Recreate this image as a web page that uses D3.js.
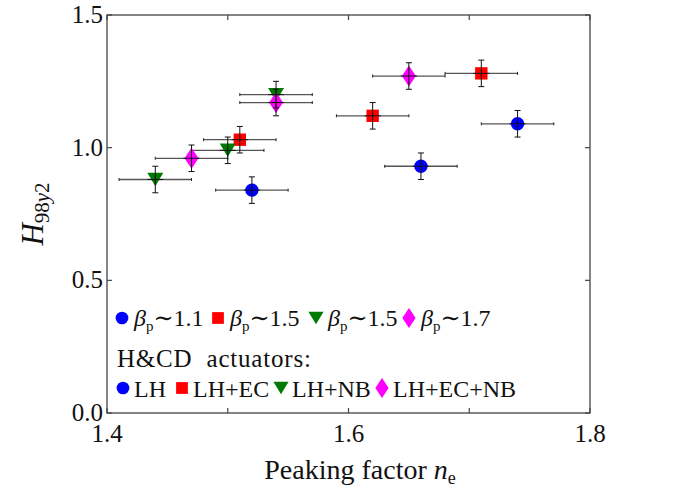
<!DOCTYPE html>
<html>
<head>
<meta charset="utf-8">
<script src="https://cdn.jsdelivr.net/npm/d3@7"></script>
<style>
  body { margin: 0; background: #fff; }
  text { font-family: "Liberation Serif", "DejaVu Serif", serif; fill: #111; }
</style>
</head>
<body>
<div id="chart"></div>
<script>
// data
const groups = ["LH", "LH+EC", "LH+NB", "LH+EC+NB"];
const betaLabels = ["1.1", "1.5", "1.5", "1.7"];
const groupColors = ["#0000ff", "#ff0000", "#007a00", "#ff00ff"];

const peaking = [
  [1.52, 1.66, 1.74],
  [1.51, 1.62, 1.71],
  [1.44, 1.50, 1.54],
  [1.47, 1.54, 1.65]
];
const h98 = [
  [0.84, 0.93, 1.09],
  [1.03, 1.12, 1.28],
  [0.88, 0.99, 1.20],
  [0.96, 1.17, 1.27]
];
const xErr = 0.03;
const yErr = 0.05;

const xTicks = [1.4, 1.5, 1.6, 1.7, 1.8];
const xTickLabels = ["1.4", "", "1.6", "", "1.8"];
const yTicks = [0, 0.5, 1.0, 1.5];

const width = 689, height = 487;
const margin = { top: 15, right: 99, bottom: 74, left: 107 };

const svg = d3.select("#chart").append("svg")
  .attr("width", width).attr("height", height);

const x = d3.scaleLinear().domain([1.4, 1.8]).range([margin.left, width - margin.right]);
const y = d3.scaleLinear().domain([0, 1.5]).range([height - margin.bottom, margin.top]);

// marker shapes
function markerPath(i, s) {
  const p = d3.path();
  if (i === 0) {
    p.arc(0, 0, 6.7 * s, 0, 2 * Math.PI);
  } else if (i === 1) {
    const h = 6.2 * s;
    p.rect(-h, -h, 2 * h, 2 * h);
  } else if (i === 2) {
    const w = 8 * s, hh = 6.7 * s;
    p.moveTo(-w, -hh); p.lineTo(w, -hh); p.lineTo(0, hh); p.closePath();
  } else {
    const w = 7 * s, hh = 10.5 * s;
    p.moveTo(0, -hh); p.lineTo(w, 0); p.lineTo(0, hh); p.lineTo(-w, 0); p.closePath();
  }
  return p.toString();
}

// axes box
const axisColor = "#444";
const plot = svg.append("g");
plot.append("rect")
  .attr("x", x(1.4)).attr("y", y(1.5))
  .attr("width", x(1.8) - x(1.4)).attr("height", y(0) - y(1.5))
  .attr("fill", "none").attr("stroke", axisColor).attr("stroke-width", 1.3);

const tickLen = 5;
xTicks.forEach((t, i) => {
  plot.append("line").attr("x1", x(t)).attr("x2", x(t))
    .attr("y1", y(0)).attr("y2", y(0) - tickLen)
    .attr("stroke", axisColor).attr("stroke-width", 1.2);
  plot.append("line").attr("x1", x(t)).attr("x2", x(t))
    .attr("y1", y(1.5)).attr("y2", y(1.5) + tickLen)
    .attr("stroke", axisColor).attr("stroke-width", 1.2);
  if (xTickLabels[i]) {
    plot.append("text").attr("x", x(t)).attr("y", y(0) + 29)
      .attr("text-anchor", "middle").attr("font-size", 25)
      .text(xTickLabels[i]);
  }
});
yTicks.forEach(t => {
  plot.append("line").attr("x1", x(1.4)).attr("x2", x(1.4) + tickLen)
    .attr("y1", y(t)).attr("y2", y(t))
    .attr("stroke", axisColor).attr("stroke-width", 1.2);
  plot.append("line").attr("x1", x(1.8)).attr("x2", x(1.8) - tickLen)
    .attr("y1", y(t)).attr("y2", y(t))
    .attr("stroke", axisColor).attr("stroke-width", 1.2);
  plot.append("text").attr("x", x(1.4) - 4).attr("y", y(t) + 8)
    .attr("text-anchor", "end").attr("font-size", 25)
    .text(d3.format(".1f")(t));
});

// axis labels
const xl = svg.append("text").attr("x", 360).attr("y", 479)
  .attr("text-anchor", "middle").attr("font-size", 28);
xl.append("tspan").text("Peaking factor ");
xl.append("tspan").attr("font-style", "italic").text("n");
xl.append("tspan").attr("font-size", 18).attr("dy", 5).text("e");

const yl = svg.append("text")
  .attr("transform", `translate(43, 214) rotate(-90)`)
  .attr("text-anchor", "middle").attr("font-size", 31);
yl.append("tspan").attr("font-style", "italic").text("H");
yl.append("tspan").attr("font-size", 21).attr("dy", 6).text("98");
yl.append("tspan").attr("font-size", 21).attr("font-style", "italic").text("y");
yl.append("tspan").attr("font-size", 21).text("2");

// data points
const points = [];
groups.forEach((g, i) => {
  peaking[i].forEach((v, j) => points.push({ g: i, x: v, y: h98[i][j] }));
});

const pts = svg.append("g");
// horizontal error bars
pts.selectAll("g.hbar").data(points).join("g").attr("class", "hbar")
  .each(function(d) {
    const s = d3.select(this);
    s.append("line").attr("x1", x(d.x - xErr)).attr("x2", x(d.x + xErr))
      .attr("y1", y(d.y)).attr("y2", y(d.y))
      .attr("stroke", "#555").attr("stroke-width", 1.3);
    [d.x - xErr, d.x + xErr].forEach(e => s.append("line")
      .attr("x1", x(e)).attr("x2", x(e)).attr("y1", y(d.y) - 1.5).attr("y2", y(d.y) + 1.5)
      .attr("stroke", "#222").attr("stroke-width", 1));
  });
// markers
pts.selectAll("path.mk").data(points).join("path").attr("class", "mk")
  .attr("transform", d => `translate(${x(d.x)},${y(d.y)})`)
  .attr("d", d => markerPath(d.g, 1))
  .attr("fill", d => groupColors[d.g]);
// vertical error bars and crossing line
pts.selectAll("g.vbar").data(points).join("g").attr("class", "vbar")
  .each(function(d) {
    const s = d3.select(this);
    s.append("line").attr("x1", x(d.x)).attr("x2", x(d.x))
      .attr("y1", y(d.y - yErr)).attr("y2", y(d.y + yErr))
      .attr("stroke", "#111").attr("stroke-width", 1);
    [d.y - yErr, d.y + yErr].forEach(e => s.append("line")
      .attr("x1", x(d.x) - 3).attr("x2", x(d.x) + 3).attr("y1", y(e)).attr("y2", y(e))
      .attr("stroke", "#111").attr("stroke-width", 1));
    s.append("line").attr("x1", x(d.x) - 8).attr("x2", x(d.x) + 8)
      .attr("y1", y(d.y)).attr("y2", y(d.y))
      .attr("stroke", "#111").attr("stroke-width", 1);
  });

// legend
const leg = svg.append("g");
const row1X = [122, 218, 316, 409];
const row1Y = 318;
groups.forEach((g, i) => {
  leg.append("path").attr("transform", `translate(${row1X[i]},${row1Y})`)
    .attr("d", markerPath(i, 0.95)).attr("fill", groupColors[i]);
  const t = leg.append("text").attr("x", row1X[i] + 12).attr("y", row1Y + 8).attr("font-size", 24);
  t.append("tspan").attr("font-style", "italic").text("β");
  t.append("tspan").attr("font-size", 15).attr("dy", 5).text("p");
  t.append("tspan").attr("dy", -5).text("∼" + betaLabels[i]);
});

leg.append("text").attr("x", 117).attr("y", 367).attr("font-size", 25)
  .attr("letter-spacing", 0.8)
  .attr("xml:space", "preserve").text("H&CD  actuators:");

const row3X = [123, 182, 281, 382];
const row3Y = 388;
groups.forEach((g, i) => {
  leg.append("path").attr("transform", `translate(${row3X[i]},${row3Y})`)
    .attr("d", markerPath(i, 0.95)).attr("fill", groupColors[i]);
  leg.append("text").attr("x", row3X[i] + 11).attr("y", row3Y + 9).attr("font-size", 24)
    .text(g);
});
</script>
</body>
</html>
